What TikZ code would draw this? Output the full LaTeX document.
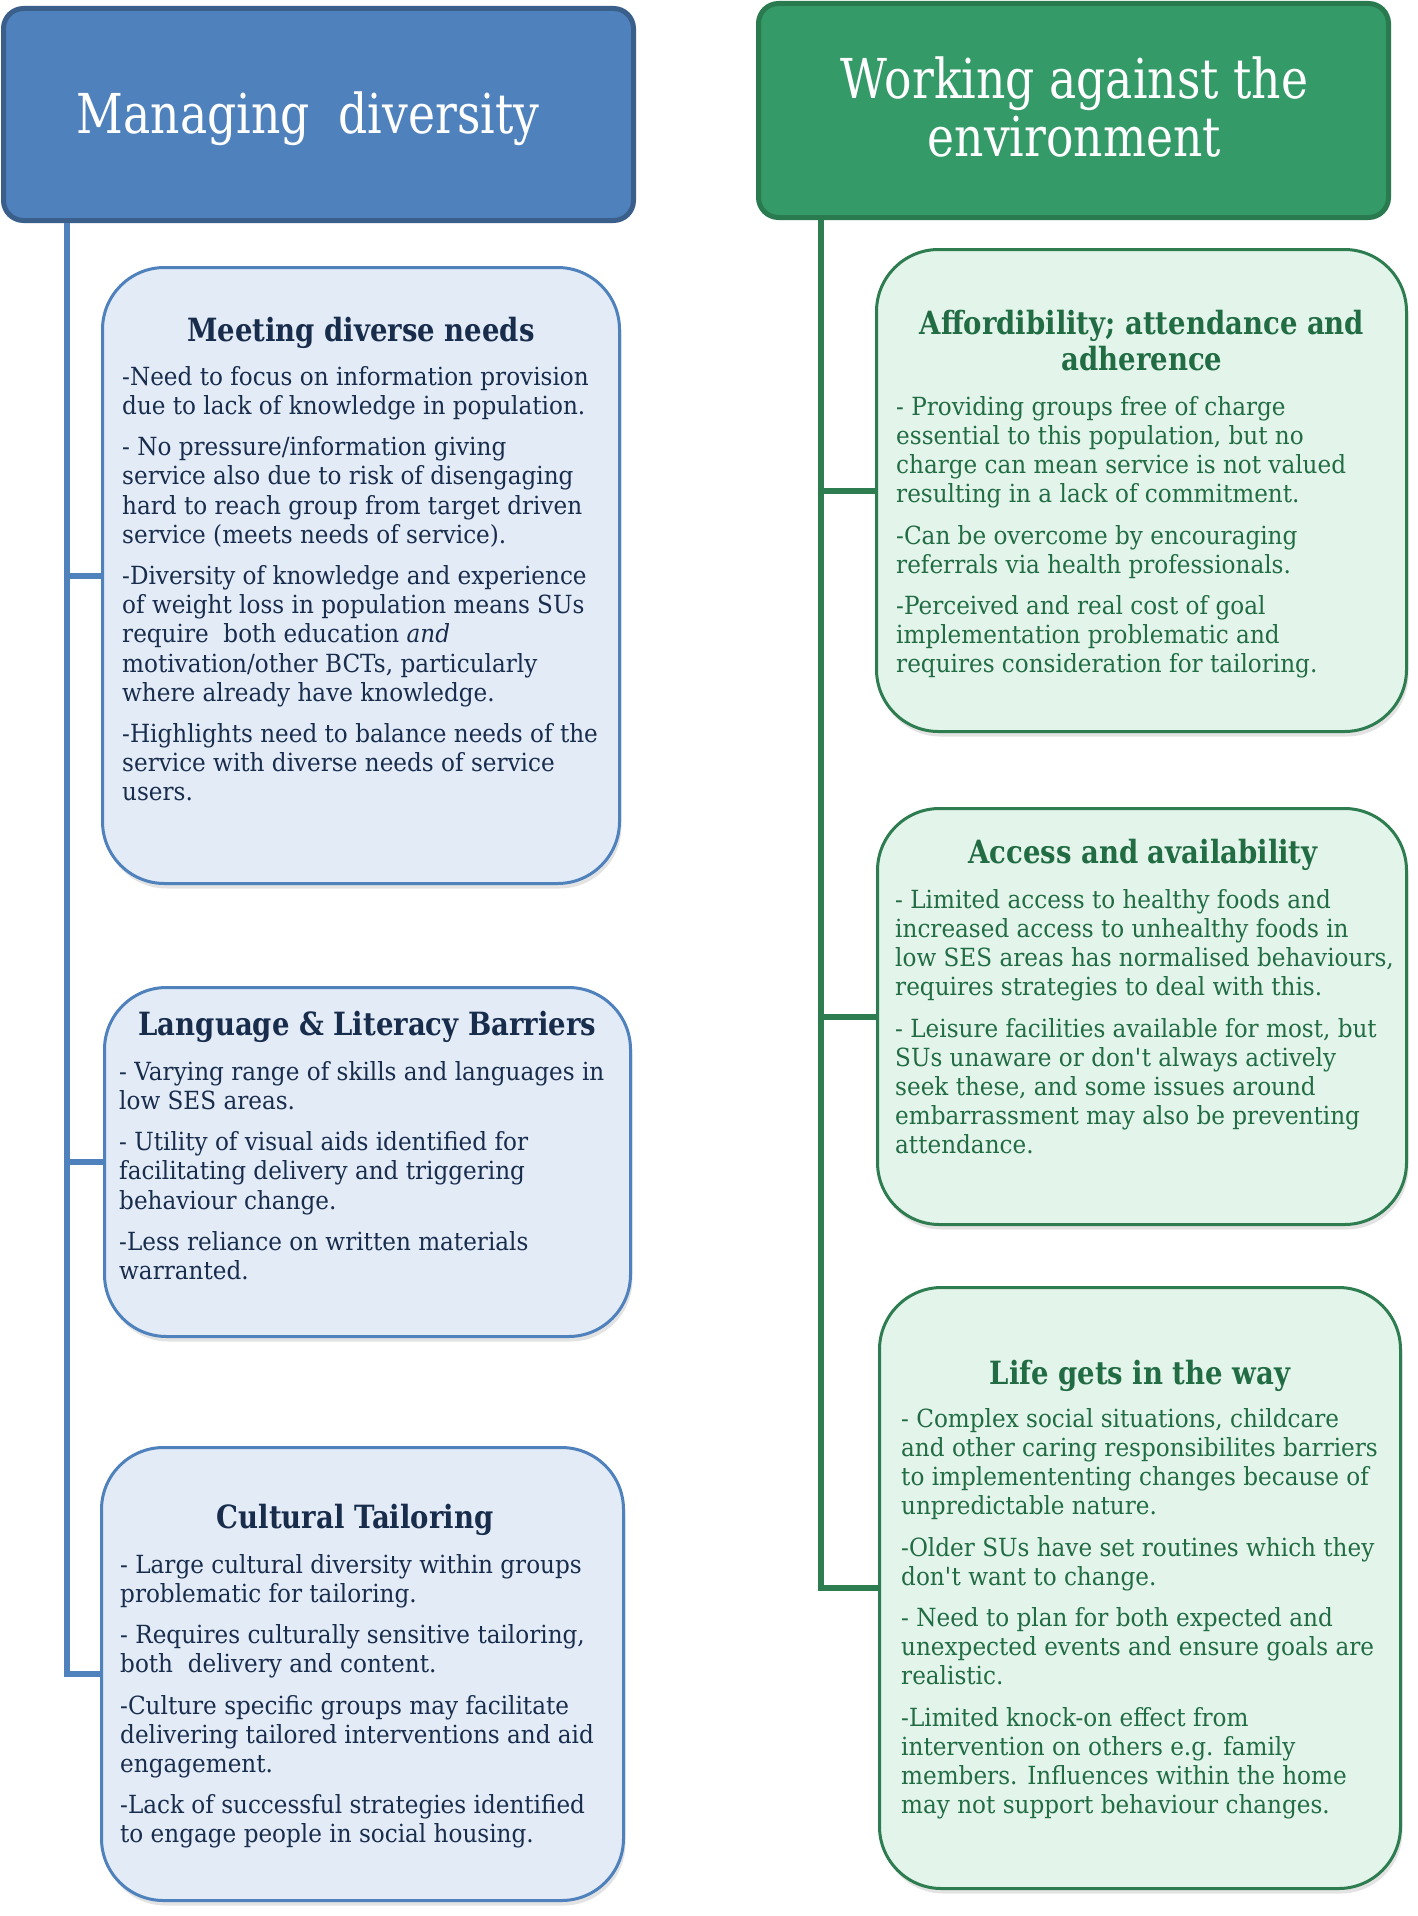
\documentclass[tikz,border=0pt]{standalone}
\usepackage{fontspec}
\setmainfont{DejaVu Serif}[FakeStretch=0.925, BoldFeatures={FakeStretch=0.86}]
\newfontfamily\hfont{DejaVu Serif}[FakeStretch=0.83]
\usetikzlibrary{shadows}
\definecolor{hblue}{HTML}{4F81BD}
\definecolor{hblueb}{HTML}{3A5F8B}
\definecolor{hgreen}{HTML}{349A68}
\definecolor{hgreenb}{HTML}{2A7A50}
\definecolor{bfillb}{HTML}{E3EBF7}
\definecolor{bfillg}{HTML}{E3F4EB}
\definecolor{tblue}{HTML}{182C4C}
\definecolor{tgreen}{HTML}{216C43}
\definecolor{lblue}{HTML}{4F81BD}
\definecolor{lgreen}{HTML}{2E7D50}
\newcommand{\bs}{\rule{0pt}{21pt}}
\begin{document}
\begin{tikzpicture}[x=1pt,y=-1pt,
  headL/.style={draw=hblueb, fill=hblue, line width=5pt, rounded corners=20pt, inner sep=0pt},
  headR/.style={draw=hgreenb, fill=hgreen, line width=5pt, rounded corners=20pt, inner sep=0pt},
  boxL/.style={draw=lblue, fill=bfillb, line width=3pt, rounded corners=62pt, inner sep=0pt,
    drop shadow={opacity=0.22, shadow xshift=2pt, shadow yshift=-5pt}},
  boxR/.style={draw=lgreen, fill=bfillg, line width=3pt, rounded corners=62pt, inner sep=0pt,
    drop shadow={opacity=0.22, shadow xshift=2pt, shadow yshift=-5pt}},
  htext/.style={text=white, inner sep=0pt, font=\hfont\fontsize{55pt}{58pt}\selectfont},
  titleL/.style={text=tblue, inner sep=0pt, font=\fontsize{32pt}{36pt}\selectfont\bfseries},
  titleR/.style={text=tgreen, inner sep=0pt, font=\fontsize{32pt}{36pt}\selectfont\bfseries},
  bodyL/.style={text=tblue, inner sep=0pt, align=left, anchor=north west, font=\fontsize{25pt}{29.2pt}\selectfont},
  bodyR/.style={text=tgreen, inner sep=0pt, align=left, anchor=north west, font=\fontsize{25pt}{29.2pt}\selectfont},
  connL/.style={draw=lblue, line width=6pt},
  connR/.style={draw=lgreen, line width=6pt}
]
\useasboundingbox (0,0) rectangle (1418,1916);
\fill[white] (0,0) rectangle (1418,1916);

% headers
\node[headL, minimum width=630pt, minimum height=212pt] (lh) at (318.5,114.5) {};
\node[headR, minimum width=630pt, minimum height=214pt] (rh) at (1073.5,110.5) {};
\node[htext, anchor=base] (lht) at (308,133) {Managing~~diversity};
\node[htext, align=center, anchor=north] (rht) at (1074.5,55) {\rule{0pt}{43pt}Working against the\\environment};

% boxes
\node[boxL, minimum width=517pt, minimum height=616pt] (b1) at (361,575.5) {};
\node[boxL, minimum width=526pt, minimum height=349pt] (b2) at (367.5,1162) {};
\node[boxL, minimum width=522pt, minimum height=453pt] (b3) at (362.5,1674) {};
\node[boxR, minimum width=530pt, minimum height=482pt] (b4) at (1141.5,490.5) {};
\node[boxR, minimum width=529pt, minimum height=416pt] (b5) at (1142,1016.5) {};
\node[boxR, minimum width=521pt, minimum height=601pt] (b6) at (1140,1588) {};

% connectors
\coordinate (lx) at (67,0);
\coordinate (rx) at (821,0);
\draw[connL] (lh.south -| lx) |- (b3.west);
\draw[connL] (b1.west -| lx) -- (b1.west);
\draw[connL] (b2.west -| lx) -- (b2.west);
\draw[connR] (rh.south -| rx) |- (b6.west);
\draw[connR] (b4.west -| rx) -- (b4.west);
\draw[connR] (b5.west -| rx) -- (b5.west);

% box 1
\node[titleL, anchor=base] (t1) at (361,341) {Meeting diverse needs};
\node[bodyL] (x1) at (122,364) {\bs-Need to focus on information provision\\
due to lack of knowledge in population.\\[12pt]
- No pressure/information giving\\
service also due to risk of disengaging\\
hard to reach group from target driven\\
service (meets needs of service).\\[12pt]
-Diversity of knowledge and experience\\
of weight loss in population means SUs\\
require~ both education \textit{and}\\
motivation/other BCTs, particularly\\
where already have knowledge.\\[12pt]
-Highlights need to balance needs of the\\
service with diverse needs of service\\
users.};

% box 2
\node[titleL, anchor=base] (t2) at (367.5,1035) {Language \& Literacy Barriers};
\node[bodyL] (x2) at (119,1059) {\bs- Varying range of skills and languages in\\
low SES areas.\\[12pt]
- Utility of visual aids identified for\\
facilitating delivery and triggering\\
behaviour change.\\[12pt]
-Less reliance on written materials\\
warranted.};

% box 3
\node[titleL, anchor=base] (t3) at (355,1528) {Cultural Tailoring};
\node[bodyL] (x3) at (120,1552) {\bs- Large cultural diversity within groups\\
problematic for tailoring.\\[12pt]
- Requires culturally sensitive tailoring,\\
both~ delivery and content.\\[12pt]
-Culture specific groups may facilitate\\
delivering tailored interventions and aid\\
engagement.\\[12pt]
-Lack of successful strategies identified\\
to engage people in social housing.};

% box 4
\node[titleR, align=center, anchor=north] (t4) at (1142,309) {\rule{0pt}{25pt}Affordibility; attendance and\\adherence};
\node[bodyR] (x4) at (896,394) {\bs- Providing groups free of charge\\
essential to this population, but no\\
charge can mean service is not valued\\
resulting in a lack of commitment.\\[12pt]
-Can be overcome by encouraging\\
referrals via health professionals.\\[12pt]
-Perceived and real cost of goal\\
implementation problematic and\\
requires consideration for tailoring.};

% box 5
\node[titleR, anchor=base] (t5) at (1143,863) {Access and availability};
\node[bodyR] (x5) at (895,887) {\bs- Limited access to healthy foods and\\
increased access to unhealthy foods in\\
low SES areas has normalised behaviours,\\
requires strategies to deal with this.\\[12pt]
- Leisure facilities available for most, but\\
SUs unaware or don\textquotesingle t always actively\\
seek these, and some issues around\\
embarrassment may also be preventing\\
attendance.};

% box 6
\node[titleR, anchor=base] (t6) at (1140,1384) {Life gets in the way};
\node[bodyR] (x6) at (901,1406) {\bs- Complex social situations, childcare\\
and other caring responsibilites barriers\\
to implemententing changes because of\\
unpredictable nature.\\[12pt]
-Older SUs have set routines which they\\
don\textquotesingle t want to change.\\[12pt]
- Need to plan for both expected and\\
unexpected events and ensure goals are\\
realistic.\\[12pt]
-Limited knock-on effect from\\
intervention on others e.g. family\\
members. Influences within the home\\
may not support behaviour changes.};
\end{tikzpicture}
\end{document}
